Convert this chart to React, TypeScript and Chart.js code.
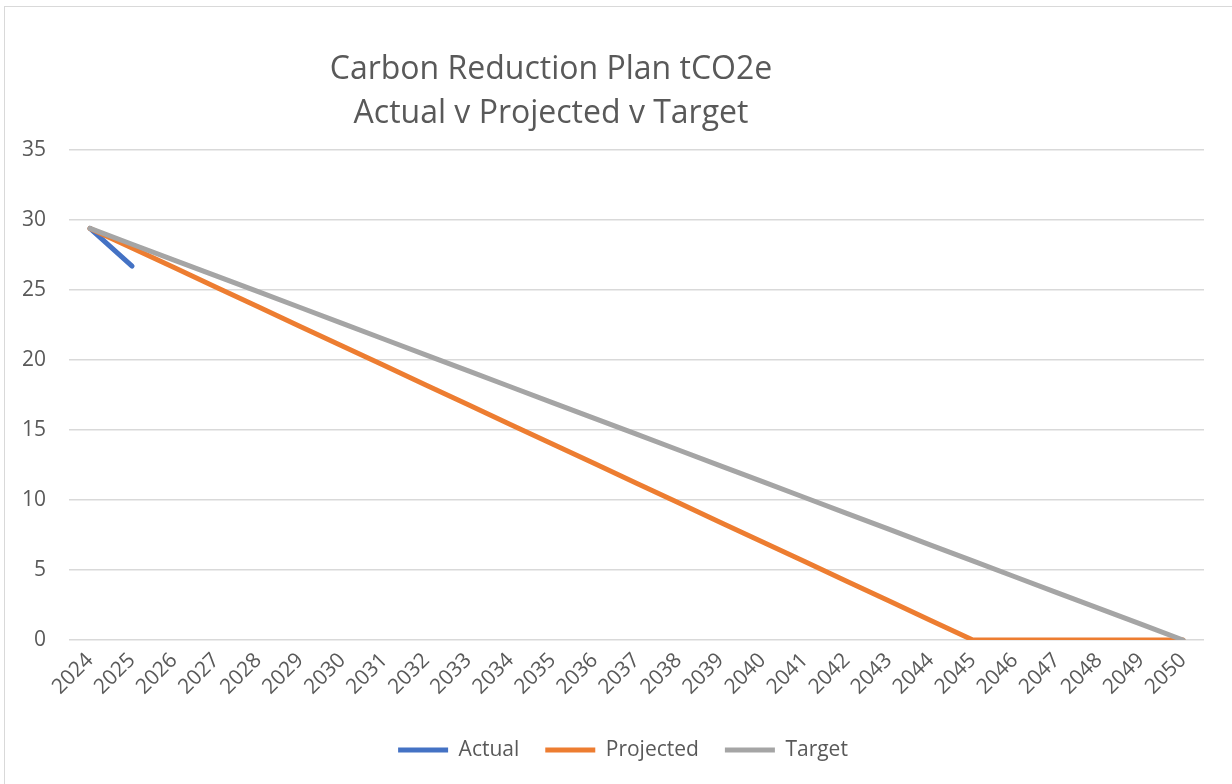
import React, { useEffect, useRef } from "react";
import { Chart, registerables } from "chart.js";

Chart.register(...registerables);

const years = [
  "2024", "2025", "2026", "2027", "2028", "2029", "2030", "2031", "2032",
  "2033", "2034", "2035", "2036", "2037", "2038", "2039", "2040", "2041",
  "2042", "2043", "2044", "2045", "2046", "2047", "2048", "2049", "2050",
];

const actual = [29.4, 26.7];

const projected = [
  29.4, 28.0, 26.6, 25.2, 23.8, 22.4, 21.0, 19.6, 18.2, 16.8, 15.4, 14.0,
  12.6, 11.2, 9.8, 8.4, 7.0, 5.6, 4.2, 2.8, 1.4, 0, 0, 0, 0, 0, 0,
];

const target = [
  29.4, 28.27, 27.14, 26.01, 24.88, 23.75, 22.62, 21.48, 20.35, 19.22, 18.09,
  16.96, 15.83, 14.7, 13.57, 12.44, 11.31, 10.18, 9.05, 7.92, 6.78, 5.65,
  4.52, 3.39, 2.26, 1.13, 0,
];

const titleLines = ["Carbon Reduction Plan tCO2e", "Actual v Projected v Target"];

const FONT = '"Open Sans", "Liberation Sans", sans-serif';
const TEXT = "#595959";

const titlePlugin = {
  id: "excelTitle",
  afterLayout(chart: any) {
    const l = chart.legend;
    if (l) {
      l.left += 16;
      l.right += 16;
    }
  },
  afterDraw(chart: any) {
    const ctx = chart.ctx;
    ctx.save();
    ctx.fillStyle = TEXT;
    ctx.font = `32px ${FONT}`;
    ctx.textAlign = "center";
    ctx.textBaseline = "alphabetic";
    ctx.fillText(titleLines[0], 551, 79);
    ctx.fillText(titleLines[1], 551, 123);
    ctx.restore();
  },
};

export default function App() {
  const ref = useRef<HTMLCanvasElement>(null);

  useEffect(() => {
    if (!ref.current) return;
    const chart = new Chart(ref.current, {
      type: "line",
      data: {
        labels: years,
        datasets: [
          {
            label: "Actual",
            data: actual,
            borderColor: "#4472C4",
            backgroundColor: "#4472C4",
            order: 2,
          },
          {
            label: "Projected",
            data: projected,
            borderColor: "#ED7D31",
            backgroundColor: "#ED7D31",
            order: 1,
          },
          {
            label: "Target",
            data: target,
            borderColor: "#A5A5A5",
            backgroundColor: "#A5A5A5",
            order: 0,
          },
        ].map((d) => ({
          ...d,
          borderWidth: 5,
          pointRadius: 0,
          pointHoverRadius: 0,
          tension: 0,
          fill: false,
          borderCapStyle: "round" as const,
          borderJoinStyle: "round" as const,
        })),
      },
      options: {
        animation: false,
        responsive: false,
        maintainAspectRatio: false,
        layout: { padding: { top: 150, left: 10, right: 28, bottom: 19.5 } },
        plugins: {
          title: { display: false },
          tooltip: { enabled: false },
          legend: {
            position: "bottom",
            labels: {
              usePointStyle: true,
              pointStyle: "line",
              pointStyleWidth: 50,
              padding: 26,
              color: TEXT,
              font: { family: FONT, size: 21 },
              sort: (a: any, b: any) => a.datasetIndex - b.datasetIndex,
            },
          },
        },
        scales: {
          x: {
            offset: true,
            grid: { display: false, drawTicks: false },
            border: { display: false },
            ticks: {
              autoSkip: false,
              maxRotation: 45,
              minRotation: 45,
              padding: 8,
              color: TEXT,
              font: { family: FONT, size: 21 },
            },
            afterFit: (s: any) => {
              s.height = 73.5;
            },
          },
          y: {
            min: 0,
            max: 35,
            grid: { color: "#d9d9d9", lineWidth: 1.5, drawTicks: false },
            border: { display: false },
            ticks: {
              stepSize: 5,
              padding: 23,
              color: TEXT,
              font: { family: FONT, size: 21 },
            },
            afterFit: (s: any) => {
              s.width = 59;
            },
          },
        },
      },
      plugins: [titlePlugin],
    });
    return () => chart.destroy();
  }, []);

  return (
    <div
      style={{
        position: "fixed",
        left: 0,
        top: 0,
        width: 1232,
        height: 784,
        overflow: "hidden",
        background: "#fff",
      }}
    >
      <div
        style={{
          position: "absolute",
          left: 4,
          top: 6,
          width: 1300,
          height: 900,
          border: "1.5px solid #d9d9d9",
        }}
      />
      <canvas
        ref={ref}
        width={1232}
        height={790}
        style={{ position: "absolute", left: 0, top: 0, width: 1232, height: 790 }}
      />
    </div>
  );
}
